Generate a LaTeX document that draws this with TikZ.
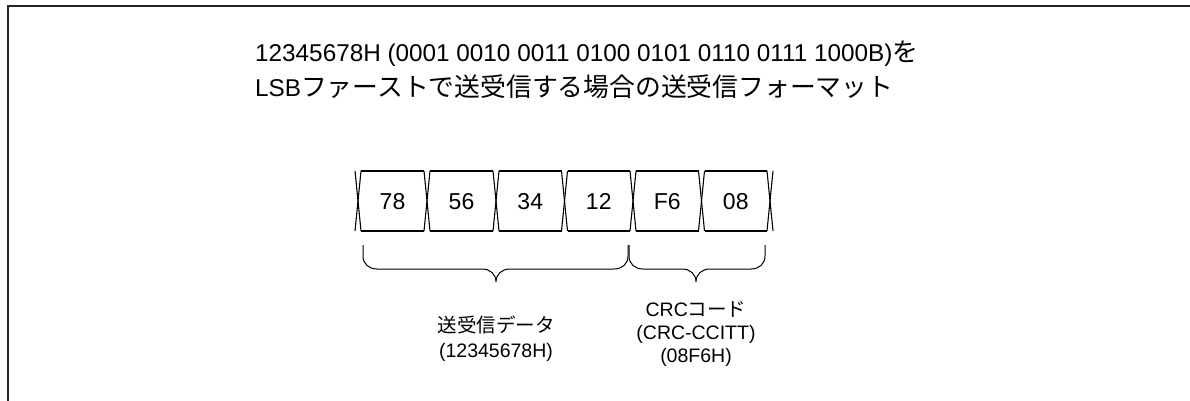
\documentclass[tikz,border=0pt]{standalone}
\usepackage{fontspec}
\setmainfont{Liberation Sans}
\newfontfamily\jpf{Noto Sans CJK JP}
\newcommand\JT[1]{{\jpf\fontsize{25.8}{30}\selectfont #1}}
\newcommand\JL[1]{{\jpf\fontsize{19.5}{24}\selectfont #1}}
\begin{document}
\begin{tikzpicture}[x=1pt,y=-1pt,
  frame/.style={line width=2pt,black!85},
  cellline/.style={line width=1.1pt},
  bracel/.style={line width=1pt},
  title/.style={anchor=base west,inner sep=0pt,font=\fontsize{24.3}{30}\selectfont},
  celltxt/.style={anchor=base,inner sep=0pt,font=\fontsize{23}{28}\selectfont},
  lbl/.style={anchor=base,inner sep=0pt,font=\fontsize{19.5}{24}\selectfont}]
\useasboundingbox (0,0) rectangle (1190,401);
% frame
\coordinate (fc) at (8,6);
\coordinate (fr) at (1190,6);
\coordinate (fb) at (8,401);
\draw[frame] (fr) -- (fc) -- (fb);
% title
\node[title] (t1) at (255,62) {12345678H (0001 0010 0011 0100 0101 0110 0111 1000B)\JT{を}};
\node[title] (t2) at (255,97) {LSB\JT{ファーストで送受信する場合の送受信フォーマット}};
% cells
\def\ct{171}\def\cb{231}\def\w{3}
\foreach \b in {358,427,496,564.5,633,701.5,770}{
  \draw[cellline] (\b-\w,\ct) -- (\b+\w,\cb);
  \draw[cellline] (\b+\w,\ct) -- (\b-\w,\cb);
}
\foreach \a/\b in {358/427,427/496,496/564.5,564.5/633,633/701.5,701.5/770}{
  \draw[cellline] (\a+\w,\ct) -- (\b-\w,\ct);
  \draw[cellline] (\a+\w,\cb) -- (\b-\w,\cb);
}
\node[celltxt] (c1) at (392.5,209) {78};
\node[celltxt] (c2) at (461.5,209) {56};
\node[celltxt] (c3) at (530.25,209) {34};
\node[celltxt] (c4) at (598.75,209) {12};
\node[celltxt] (c5) at (667.25,209) {F6};
\node[celltxt] (c6) at (735.75,209) {08};
% braces
\draw[bracel] (363,245) -- (363,256) .. controls (363,264) and (369,269) .. (377,269)
  -- (482,269) .. controls (490,269) and (496,274) .. (496,282)
  .. controls (496,274) and (502,269) .. (510,269)
  -- (614,269) .. controls (622,269) and (628,264) .. (628,256) -- (628,245);
\draw[bracel] (629,245) -- (629,256) .. controls (629,264) and (635,269) .. (643,269)
  -- (682,269) .. controls (690,269) and (696,274) .. (696,282)
  .. controls (696,274) and (702,269) .. (710,269)
  -- (751,269) .. controls (759,269) and (765,264) .. (765,256) -- (765,245);
% labels
\node[lbl] (l1a) at (496,332) {\JL{送受信データ}};
\node[lbl] (l1b) at (496,357) {(12345678H)};
\node[lbl] (l2a) at (696,316) {CRC\JL{コード}};
\node[lbl] (l2b) at (696,339) {(CRC-CCITT)};
\node[lbl] (l2c) at (696,362) {(08F6H)};
\end{tikzpicture}
\end{document}
